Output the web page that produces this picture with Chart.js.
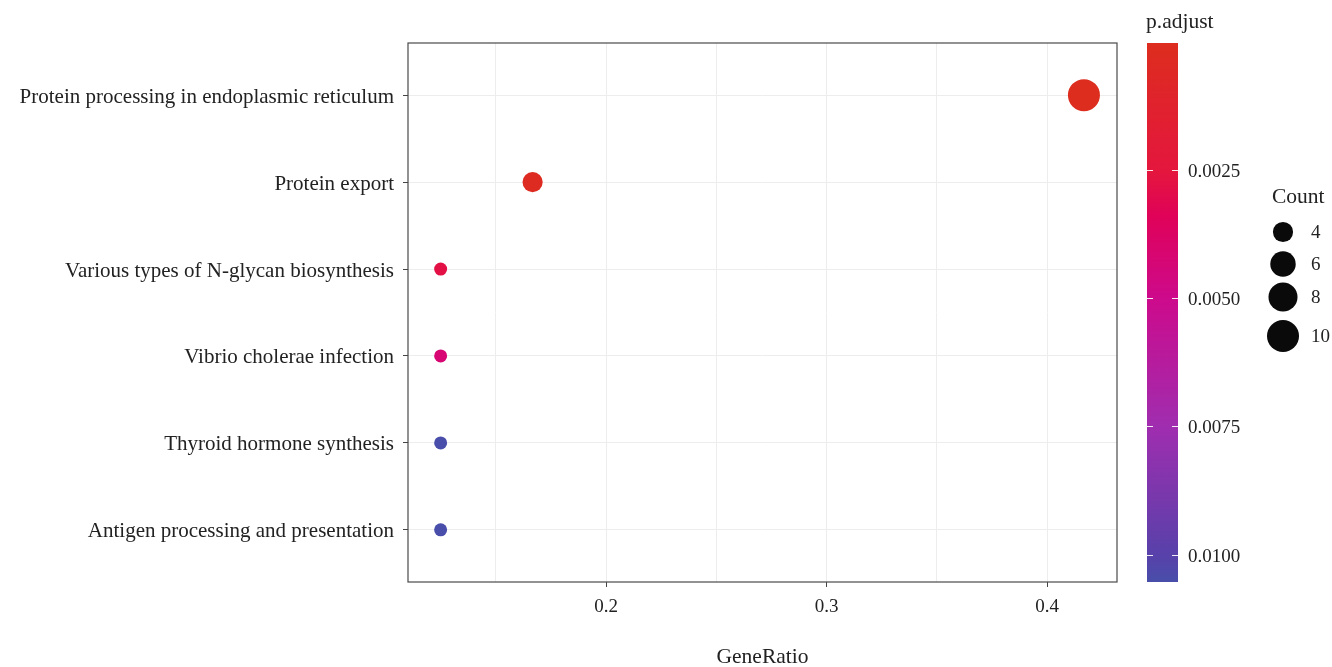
<!DOCTYPE html>
<html><head><meta charset="utf-8">
<script src="https://cdn.jsdelivr.net/npm/chart.js@4/dist/chart.umd.min.js"></script>
<style>html,body{margin:0;padding:0;background:#fff}#wrap{width:1332px;height:667px}</style>
</head><body><div id="wrap"><canvas id="c" width="1332" height="667"></canvas></div>
<script>
const categories = [
  "Protein processing in endoplasmic reticulum",
  "Protein export",
  "Various types of N-glycan biosynthesis",
  "Vibrio cholerae infection",
  "Thyroid hormone synthesis",
  "Antigen processing and presentation"
];
const geneRatio = [0.4167, 0.1667, 0.125, 0.125, 0.125, 0.125];
const counts = [10, 4, 3, 3, 3, 3];
const pAdjust = [0.00003, 0.0003, 0.0028, 0.0042, 0.01053, 0.01053];
const xTicks = [0.15, 0.2, 0.25, 0.3, 0.35, 0.4];
const xLabels = ["", "0.2", "", "0.3", "", "0.4"];
const colorbarTicks = [0.0025, 0.005, 0.0075, 0.01];
const colorbarLabels = ["0.0025", "0.0050", "0.0075", "0.0100"];
const sizeLegendCounts = [4, 6, 8, 10];
const sizeLegendLabels = ["4", "6", "8", "10"];

// colour scale (fraction of p.adjust range -> rgb)
const colorStops = [
  [0.00, [221, 45, 30]],
  [0.24, [228, 22, 62]],
  [0.32, [224, 2, 88]],
  [0.475, [205, 10, 140]],
  [0.71, [160, 45, 175]],
  [0.95, [88, 65, 170]],
  [1.00, [72, 78, 170]]
];
const pMin = Math.min(...pAdjust), pMax = Math.max(...pAdjust);
function colorAt(t) {
  t = Math.max(0, Math.min(1, t));
  for (let i = 1; i < colorStops.length; i++) {
    const [t1, c1] = colorStops[i], [t0, c0] = colorStops[i - 1];
    if (t <= t1) {
      const f = (t - t0) / (t1 - t0);
      const c = c0.map((v, k) => Math.round(v + (c1[k] - v) * f));
      return `rgb(${c[0]},${c[1]},${c[2]})`;
    }
  }
  const c = colorStops[colorStops.length - 1][1];
  return `rgb(${c[0]},${c[1]},${c[2]})`;
}
function colorFor(p) { return colorAt((p - pMin) / (pMax - pMin)); }
// size scale (area palette like ggplot): diameter grows with sqrt of rescaled count
const cMin = Math.min(...counts), cMax = Math.max(...counts);
const dMin = 13, dMax = 32;
function sizeFor(n) {
  const t = Math.max(0, (n - cMin) / (cMax - cMin));
  return (dMin + Math.sqrt(t) * (dMax - dMin)) / 2;
}

const FONT = "'Liberation Serif', 'DejaVu Serif', serif";
const FS = 19, FL = 21, FT = 21.5;
const TXT = '#222';

const extras = {
  id: 'extras',
  beforeDatasetsDraw(chart) {
    const { ctx, chartArea: a } = chart;
    ctx.save();
    ctx.strokeStyle = '#4a4a4a';
    ctx.lineWidth = 1.2;
    ctx.strokeRect(a.left, a.top, a.right - a.left, a.bottom - a.top);
    ctx.restore();
  },
  afterDraw(chart) {
    const { ctx, chartArea: a } = chart;
    ctx.save();
    // colorbar
    const bx = 1147, bw = 31, top = a.top, bot = a.bottom;
    const g = ctx.createLinearGradient(0, top, 0, bot);
    colorStops.forEach(([t]) => g.addColorStop(t, colorAt(t)));
    ctx.fillStyle = g;
    ctx.fillRect(bx, top, bw, bot - top);
    const yOf = p => top + (p - pMin) / (pMax - pMin) * (bot - top);
    ctx.textBaseline = 'middle';
    ctx.textAlign = 'left';
    ctx.font = `${FS}px ${FONT}`;
    colorbarTicks.forEach((p, i) => {
      const y = Math.round(yOf(p)) + 0.5;
      ctx.strokeStyle = 'rgba(255,255,255,0.9)';
      ctx.lineWidth = 1.2;
      ctx.beginPath();
      ctx.moveTo(bx, y); ctx.lineTo(bx + 6, y);
      ctx.moveTo(bx + bw - 6, y); ctx.lineTo(bx + bw, y);
      ctx.stroke();
      ctx.fillStyle = TXT;
      ctx.fillText(colorbarLabels[i], 1188, y + 1.5);
    });
    ctx.font = `${FT}px ${FONT}`;
    ctx.fillStyle = TXT;
    ctx.fillText('p.adjust', 1146, 22);
    // size legend
    ctx.fillText('Count', 1272, 197);
    const ys = [232, 264, 297, 336];
    ctx.font = `${FS}px ${FONT}`;
    sizeLegendCounts.forEach((n, i) => {
      ctx.fillStyle = '#0a0a0a';
      ctx.beginPath();
      ctx.arc(1283, ys[i], sizeFor(n), 0, Math.PI * 2);
      ctx.fill();
      ctx.fillStyle = TXT;
      ctx.fillText(sizeLegendLabels[i], 1311, ys[i] + 1);
    });
    ctx.restore();
  }
};

new Chart(document.getElementById('c'), {
  type: 'scatter',
  data: {
    datasets: [{
      data: categories.map((c, i) => ({ x: geneRatio[i], y: i })),
      pointRadius: counts.map(sizeFor),
      pointHoverRadius: counts.map(sizeFor),
      backgroundColor: pAdjust.map(colorFor),
      borderWidth: 0
    }]
  },
  options: {
    responsive: false,
    devicePixelRatio: 1,
    animation: false,
    layout: { padding: { left: 0, right: 215, top: 43, bottom: 0 } },
    plugins: { legend: { display: false }, tooltip: { enabled: false } },
    scales: {
      x: {
        type: 'linear', min: 0.1102, max: 0.4317,
        afterBuildTicks: s => { s.ticks = xTicks.map(v => ({ value: v })); },
        afterFit: s => { s.height = 85; },
        ticks: {
          autoSkip: false, maxRotation: 0,
          callback: (v, i) => xLabels[i],
          font: { family: FONT, size: FS }, color: TXT, padding: 9
        },
        grid: {
          color: '#EDEDED', lineWidth: 1, tickLength: 5,
          tickColor: c => (xLabels[c.index] ? '#444' : 'rgba(0,0,0,0)')
        },
        border: { display: false },
        title: { display: true, text: 'GeneRatio', font: { family: FONT, size: FT }, color: TXT, padding: { top: 0, bottom: -3 } }
      },
      y: {
        type: 'linear', reverse: true, min: -0.6, max: 5.6,
        afterBuildTicks: s => { s.ticks = categories.map((c, i) => ({ value: i })); },
        afterFit: s => { s.width = 408; },
        ticks: {
          autoSkip: false,
          callback: v => categories[v],
          labelOffset: 2,
          font: { family: FONT, size: FL }, color: TXT, padding: 9
        },
        grid: { color: '#EDEDED', lineWidth: 1, tickLength: 5, tickColor: '#444' },
        border: { display: false }
      }
    }
  },
  plugins: [extras]
});
</script>
</body></html>
